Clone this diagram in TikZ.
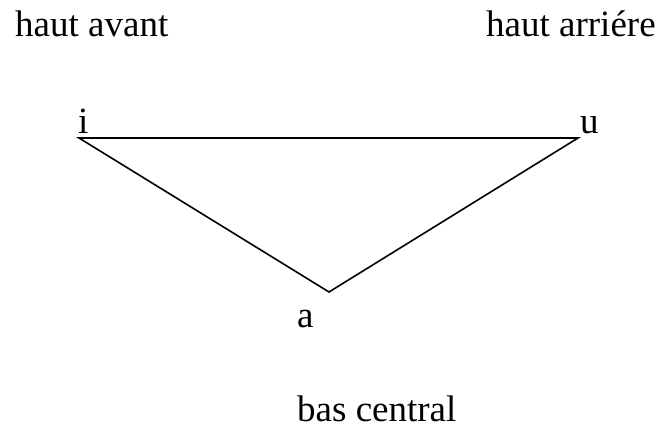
\documentclass[tikz,border=0pt]{standalone}
\usepackage{fontspec}
\setmainfont{Liberation Serif}
\begin{document}
\begin{tikzpicture}[x=1pt,y=-1pt,
  lbl/.style={anchor=base west,inner sep=0pt,font=\fontsize{37}{42}\selectfont},
  edge/.style={line width=1.6pt}]
\useasboundingbox (0,0) rectangle (659,430);
\coordinate (vi) at (79,138);
\coordinate (vu) at (578,138);
\coordinate (va) at (329,292);
\node[lbl] (ha) at (15,37) {haut avant};
\node[lbl] (har) at (486,37) {haut arriére};
\node[lbl] (ti) at (78,134) {i};
\node[lbl] (tu) at (580,134) {u};
\node[lbl] (ta) at (297,328) {a};
\node[lbl] (bc) at (297,421) {bas central};
\draw[edge,line join=miter] (vi) -- (vu) -- (va) -- cycle;
\end{tikzpicture}
\end{document}
